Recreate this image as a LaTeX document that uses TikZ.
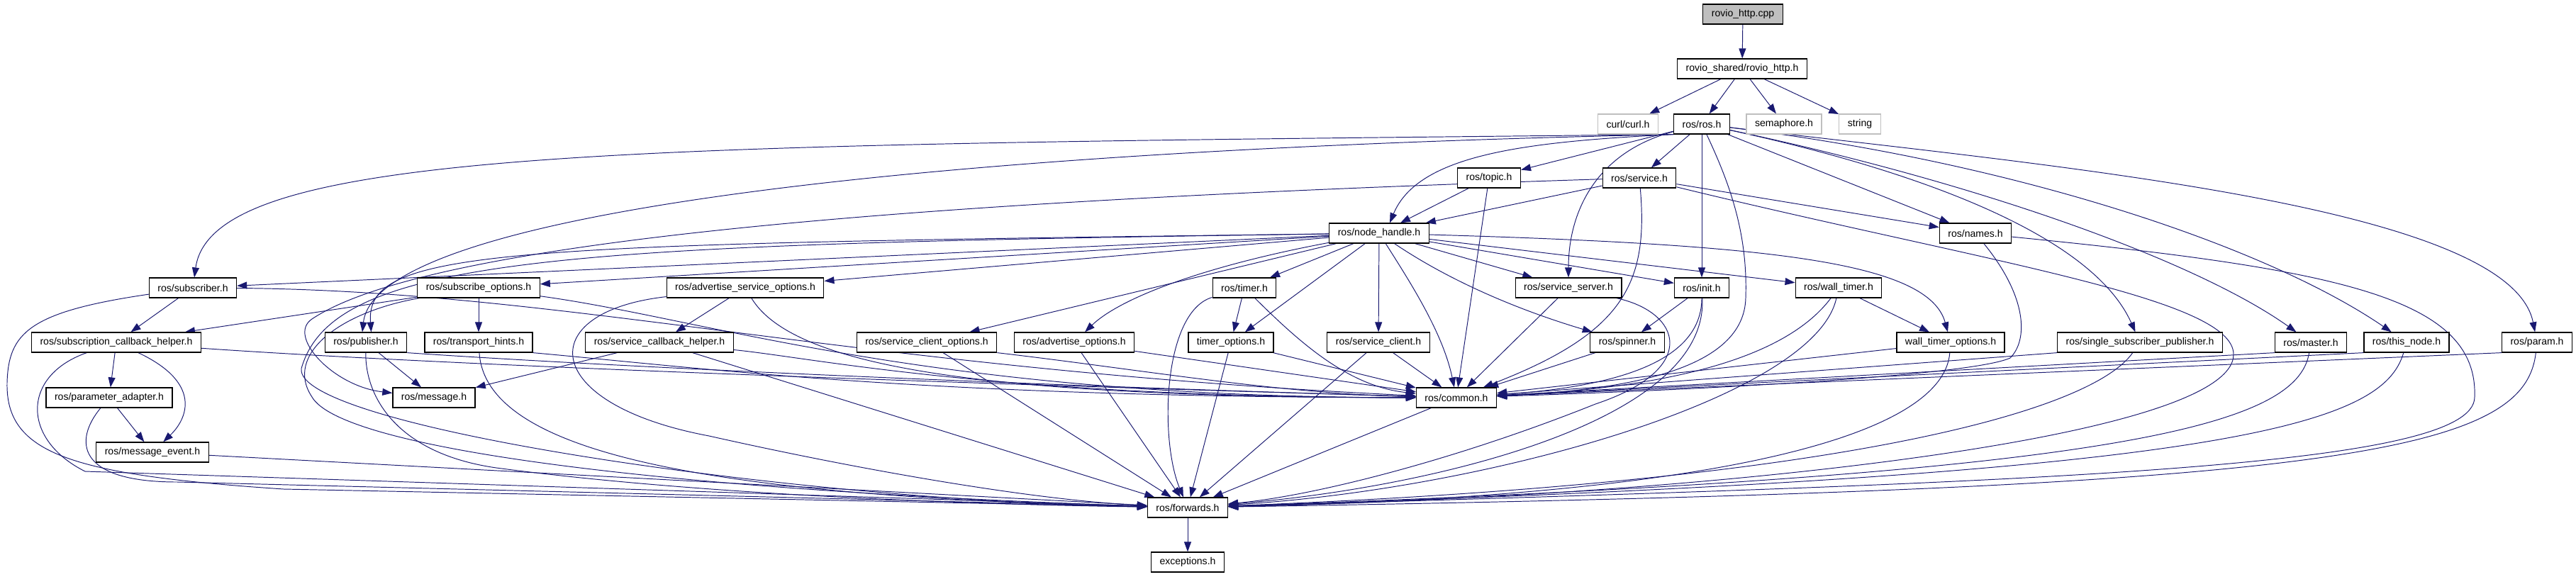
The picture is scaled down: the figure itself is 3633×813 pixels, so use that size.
\documentclass[tikz,border=0pt]{standalone}
\usepackage{xcolor}
\usepackage{tikz}
\usepackage{fontspec}
\setmainfont{Liberation Sans}
\usetikzlibrary{arrows.meta, positioning, backgrounds}
\definecolor{dotblue}{RGB}{25,25,112}
\definecolor{dotgray}{RGB}{191,191,191}

\begin{document}
\begin{tikzpicture}[x=0.2mm, y=-0.2mm,
    hbox/.style={rectangle,draw=black,fill=white,line width=0.7pt,minimum height=5.6mm,inner xsep=2.4mm,inner ysep=0pt,font=\fontsize{8pt}{9.6pt}\selectfont},
    sysbox/.style={hbox,draw=dotgray},
    srcbox/.style={hbox,fill=dotgray},
    incl/.style={draw=dotblue,line width=0.55pt,-{Triangle[length=2.8mm,width=2mm]}}]
    \useasboundingbox (0,0) rectangle (3633,813);

    % Sorgente
    \node[srcbox] (cpp) at (2458,20) {rovio\_http.cpp};
    \node[hbox] (rhttp) at (2457,97) {rovio\_shared/rovio\_http.h};

    % Include diretti
    \node[sysbox] (curl) at (2296,175) {curl/curl.h};
    \node[hbox] (ros) at (2400,175) {ros/ros.h};
    \node[sysbox] (sema) at (2516,175) {semaphore.h};
    \node[sysbox] (str) at (2623,175) {string};

    % Livelli intermedi
    \node[hbox] (topic) at (2100,251) {ros/topic.h};
    \node[hbox] (service) at (2312,251) {ros/service.h};
    \node[hbox] (nh) at (1945,329) {ros/node\_handle.h};
    \node[hbox] (names) at (2786,329) {ros/names.h};

    \node[hbox] (sub) at (272,406) {ros/subscriber.h};
    \node[hbox] (subopt) at (675,406) {ros/subscribe\_options.h};
    \node[hbox] (advsrvopt) at (1051,406) {ros/advertise\_service\_options.h};
    \node[hbox] (timer) at (1755,406) {ros/timer.h};
    \node[hbox] (srvserver) at (2212,406) {ros/service\_server.h};
    \node[hbox] (init) at (2400,406) {ros/init.h};
    \node[hbox] (walltimer) at (2593,406) {ros/wall\_timer.h};

    \node[hbox] (sch) at (164,483) {ros/subscription\_callback\_helper.h};
    \node[hbox] (pub) at (516,483) {ros/publisher.h};
    \node[hbox] (hints) at (675,483) {ros/transport\_hints.h};
    \node[hbox] (schelper) at (930,483) {ros/service\_callback\_helper.h};
    \node[hbox] (scopt) at (1307,483) {ros/service\_client\_options.h};
    \node[hbox] (advopt) at (1515,483) {ros/advertise\_options.h};
    \node[hbox] (timeropt) at (1736,483) {timer\_options.h};
    \node[hbox] (sclient) at (1944,483) {ros/service\_client.h};
    \node[hbox] (spinner) at (2295,483) {ros/spinner.h};
    \node[hbox] (wtopt) at (2751,483) {wall\_timer\_options.h};
    \node[hbox] (ssp) at (3018,483) {ros/single\_subscriber\_publisher.h};
    \node[hbox] (master) at (3259,483) {ros/master.h};
    \node[hbox] (thisnode) at (3394,483) {ros/this\_node.h};
    \node[hbox] (param) at (3578,483) {ros/param.h};

    % Base
    \node[hbox] (padapt) at (154,561) {ros/parameter\_adapter.h};
    \node[hbox] (msg) at (612,561) {ros/message.h};
    \node[hbox] (common) at (2054,561) {ros/common.h};
    \node[hbox] (mevent) at (215,638) {ros/message\_event.h};
    \node[hbox] (fwd) at (1675,716) {ros/forwards.h};
    \node[hbox] (exc) at (1675,793) {exceptions.h};

    \begin{scope}[on background layer]
        % Cima
        \draw[incl] (cpp) -- (rhttp);
        \draw[incl] (rhttp) -- (curl);
        \draw[incl] (rhttp) -- (ros);
        \draw[incl] (rhttp) -- (sema);
        \draw[incl] (rhttp) -- (str);

        % ros/ros.h
        \draw[incl] (ros.south west) .. controls (900,205) and (300,205) .. (sub);
        \draw[incl] (ros.south west) .. controls (1300,212) and (530,300) .. ([xshift=-1mm]pub.north);
        \draw[incl] (ros.south west) .. controls (2150,200) and (2000,218) .. ([xshift=3mm]nh.north);
        \draw[incl] (ros) -- (topic);
        \draw[incl] (ros) -- (service);
        \draw[incl] (ros) .. controls (2250,215) and (2212,300) .. (srvserver);
        \draw[incl] (ros) -- (init);
        \draw[incl] (ros) .. controls (2440,260) and (2465,330) .. (2462,420) .. controls (2460,520) and (2300,550) .. (common);
        \draw[incl] (ros) -- (names);
        \draw[incl] (ros) .. controls (2700,240) and (2950,330) .. (ssp);
        \draw[incl] (ros) .. controls (2800,260) and (3100,370) .. (master);
        \draw[incl] (ros) .. controls (2850,230) and (3200,350) .. (thisnode);
        \draw[incl] (ros) .. controls (2900,235) and (3540,290) .. (param);

        % topic e service
        \draw[incl] (topic) -- ([xshift=6mm]nh.north);
        \draw[incl] (topic) -- (common);
        \draw[incl] (service) -- ([xshift=-1mm]nh.north east);
        \draw[incl] (service) .. controls (1400,280) and (620,330) .. (440,450) .. controls (404,474) and (470,545) .. (msg);
        \draw[incl] (service) .. controls (2325,400) and (2290,470) .. (common);
        \draw[incl] (service) -- (names);
        \draw[incl] (service) .. controls (2800,370) and (3150,420) .. (3150,500) .. controls (3150,620) and (2400,700) .. (fwd);

        % ros/node_handle.h
        \draw[incl] (nh) -- (sub);
        \draw[incl] (nh) .. controls (700,345) and (515,350) .. ([xshift=1.5mm]pub.north);
        \draw[incl] (nh) -- (subopt);
        \draw[incl] (nh) -- (advsrvopt);
        \draw[incl] (nh) .. controls (800,345) and (470,360) .. (425,520) .. controls (415,600) and (1100,705) .. (fwd);
        \draw[incl] (nh) -- (scopt);
        \draw[incl] (nh) .. controls (1700,375) and (1580,420) .. (advopt);
        \draw[incl] (nh) -- (timer);
        \draw[incl] (nh) -- (timeropt);
        \draw[incl] (nh) -- (sclient);
        \draw[incl] (nh) .. controls (1990,400) and (2035,470) .. (common);
        \draw[incl] (nh) -- (srvserver);
        \draw[incl] (nh) .. controls (2050,400) and (2150,440) .. (spinner);
        \draw[incl] (nh) -- (init);
        \draw[incl] (nh) -- (walltimer);
        \draw[incl] (nh) .. controls (2500,345) and (2720,370) .. (wtopt);

        % Subscriber
        \draw[incl] (sub) -- (sch);
        \draw[incl] (sub) .. controls (40,440) and (12,470) .. (10,540) .. controls (8,640) and (100,670) .. (400,690) -- (fwd);
        \draw[incl] (sub) .. controls (800,410) and (1200,520) .. (common);
        \draw[incl] (sch) -- (padapt);
        \draw[incl] (sch) .. controls (285,540) and (265,590) .. (mevent);
        \draw[incl] (sch) .. controls (30,530) and (30,620) .. (120,665) -- (fwd);
        \draw[incl] (sch) .. controls (700,520) and (1500,545) .. (common);
        \draw[incl] (padapt) -- (mevent);
        \draw[incl] (padapt) .. controls (105,620) and (105,680) .. (250,680) -- (fwd);
        \draw[incl] (mevent) -- (fwd);

        % Publisher e opzioni
        \draw[incl] (pub) -- (msg);
        \draw[incl] (pub.south east) .. controls (900,520) and (1500,545) .. (common);
        \draw[incl] (pub) .. controls (515,560) and (560,640) .. (700,660) .. controls (1000,700) and (1400,712) .. (fwd);
        \draw[incl] (subopt) -- (hints);
        \draw[incl] (subopt) -- (sch);
        \draw[incl] (subopt) .. controls (1000,450) and (1300,560) .. (common);
        \draw[incl] (subopt) .. controls (480,440) and (400,500) .. (440,560) .. controls (480,630) and (900,690) .. (fwd);
        \draw[incl] (hints.south east) .. controls (1000,520) and (1300,560) .. (common);
        \draw[incl] (hints) .. controls (685,640) and (1000,700) .. (fwd);

        % Servizi
        \draw[incl] (advsrvopt) -- (schelper);
        \draw[incl] (advsrvopt) .. controls (1120,520) and (1400,560) .. (common);
        \draw[incl] (advsrvopt) .. controls (750,440) and (760,570) .. (1000,615) .. controls (1200,660) and (1450,705) .. (fwd);
        \draw[incl] (schelper) -- (msg);
        \draw[incl] (schelper) .. controls (1150,505) and (1400,560) .. (common);
        \draw[incl] (schelper) -- (fwd);
        \draw[incl] (scopt.south east) .. controls (1600,520) and (1800,555) .. (common);
        \draw[incl] (scopt) -- (fwd);

        % Timer e client
        \draw[incl] (advopt) -- (common);
        \draw[incl] (advopt) -- (fwd);
        \draw[incl] (timer) -- (timeropt);
        \draw[incl] (timer) .. controls (1830,480) and (1900,545) .. (common);
        \draw[incl] (timer) .. controls (1640,440) and (1635,620) .. (fwd);
        \draw[incl] (timeropt) -- (common);
        \draw[incl] (timeropt) -- (fwd);
        \draw[incl] (sclient) -- (common);
        \draw[incl] (sclient) -- (fwd);
        \draw[incl] (common) -- (fwd);
        \draw[incl] (fwd) -- (exc);

        % init, server, wall timer
        \draw[incl] (srvserver) -- (common);
        \draw[incl] (srvserver) .. controls (2370,440) and (2400,520) .. (2250,570) .. controls (2050,650) and (1850,700) .. (fwd);
        \draw[incl] (init) -- (spinner);
        \draw[incl] (init) .. controls (2400,510) and (2280,545) .. (common);
        \draw[incl] (init) .. controls (2410,600) and (2000,690) .. (fwd);
        \draw[incl] (spinner) -- (common);
        \draw[incl] (walltimer) -- (wtopt);
        \draw[incl] (walltimer) .. controls (2530,490) and (2400,545) .. (common);
        \draw[incl] (walltimer) .. controls (2560,560) and (2100,690) .. (fwd);
        \draw[incl] (wtopt) -- (common);
        \draw[incl] (wtopt) .. controls (2740,620) and (2400,700) .. (fwd);

        % Lato destro
        \draw[incl] (names) .. controls (2860,420) and (2860,480) .. (2835,505) .. controls (2780,530) and (2400,550) .. (common);
        \draw[incl] (names) .. controls (3300,380) and (3495,420) .. (3490,560) .. controls (3490,660) and (2900,680) .. (fwd);
        \draw[incl] (ssp.south west) -- (common);
        \draw[incl] (ssp) .. controls (2950,580) and (2600,680) .. (fwd);
        \draw[incl] (master.south west) -- (common);
        \draw[incl] (master) .. controls (3240,600) and (3000,670) .. (fwd);
        \draw[incl] (thisnode.south west) -- (common);
        \draw[incl] (thisnode) .. controls (3360,600) and (3150,670) .. (fwd);
        \draw[incl] (param.south west) -- (common);
        \draw[incl] (param) .. controls (3560,640) and (3300,690) .. (fwd);
    \end{scope}
\end{tikzpicture}
\end{document}
